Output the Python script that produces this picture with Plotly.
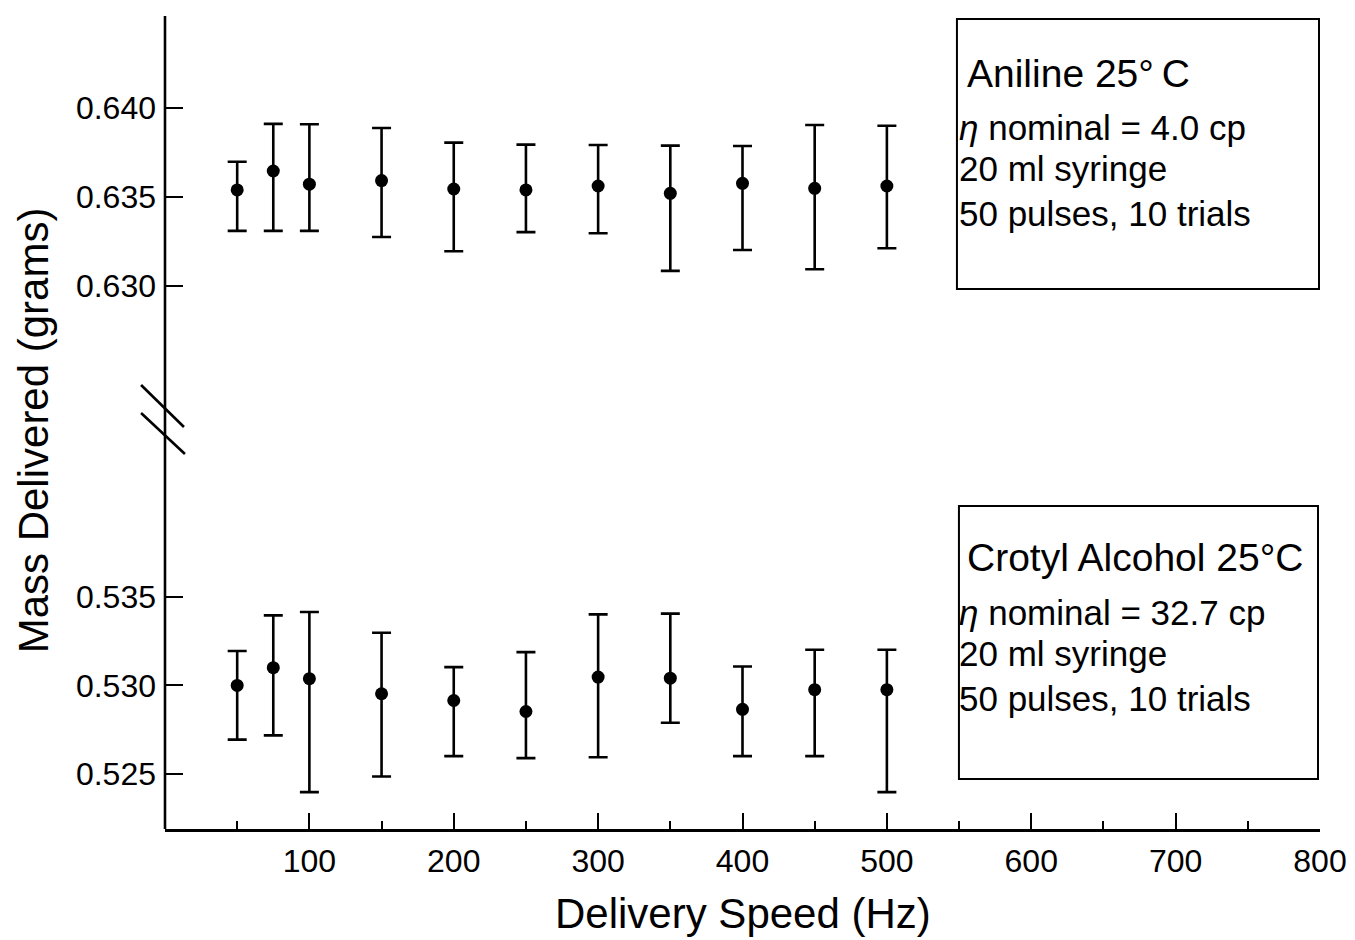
import plotly.graph_objects as go

# ---------------- data ----------------
speeds = [50, 75, 100, 150, 200, 250, 300, 350, 400, 450, 500]

aniline_mean = [0.63539, 0.63645, 0.63571, 0.63591, 0.63544, 0.63539, 0.63561, 0.63520, 0.63576, 0.63548, 0.63561]
aniline_high = [0.63697, 0.63909, 0.63907, 0.63886, 0.63804, 0.63793, 0.63791, 0.63787, 0.63785, 0.63903, 0.63899]
aniline_low = [0.63309, 0.63309, 0.63309, 0.63275, 0.63195, 0.63302, 0.63296, 0.63085, 0.63202, 0.63094, 0.63212]

crotyl_mean = [0.53000, 0.53100, 0.53038, 0.52953, 0.52915, 0.52853, 0.53047, 0.53041, 0.52865, 0.52976, 0.52976]
crotyl_high = [0.53194, 0.53395, 0.53414, 0.53297, 0.53103, 0.53188, 0.53401, 0.53405, 0.53107, 0.53201, 0.53201]
crotyl_low = [0.52694, 0.52718, 0.52398, 0.52486, 0.52601, 0.52590, 0.52595, 0.52789, 0.52601, 0.52601, 0.52398]

x_major_ticks = [100, 200, 300, 400, 500, 600, 700, 800]
x_minor_ticks = [50, 150, 250, 350, 450, 550, 650, 750]
upper_ticks = [0.630, 0.635, 0.640]
lower_ticks = [0.525, 0.530, 0.535]

aniline_lines = ["Aniline 25°\u2009C", "<i>η</i> nominal = 4.0 cp", "20 ml syringe", "50 pulses, 10 trials"]
crotyl_lines = ["Crotyl Alcohol 25°C", "<i>η</i> nominal = 32.7 cp", "20 ml syringe", "50 pulses, 10 trials"]

# ---------------- layout geometry ----------------
# the page body adds an 8px margin, so the figure starts at screen (8, 8)
OFF = 8
SW, SH = 1355, 940
W, H = SW - OFF, SH - OFF
# plot area in screen pixels
PL, PR, PT, PB = 165, 1323, 16, 829
ML, MR, MT, MB = PL - OFF, W - (PR - OFF), PT - OFF, H - (PB - OFF)
PW, PH = PR - PL, PB - PT
FONT = "Liberation Sans, Arial, Helvetica, sans-serif"
BLACK = "#000000"


def px(xs):
    return (xs - PL) / PW


def py(ys):
    return (PB - ys) / PH


upper_dom = [py(405), 1.0]
lower_dom = [0.0, py(433)]

fig = go.Figure()


def add_series(xs, mean, high, low, yaxis):
    fig.add_trace(go.Scatter(
        x=xs, y=mean, mode="markers", yaxis=yaxis, showlegend=False,
        marker=dict(size=13, color=BLACK),
        error_y=dict(type="data", symmetric=False,
                     array=[h - m for h, m in zip(high, mean)],
                     arrayminus=[m - l for m, l in zip(mean, low)],
                     color=BLACK, thickness=2.6, width=9.5),
    ))


add_series(speeds, aniline_mean, aniline_high, aniline_low, "y2")
add_series(speeds, crotyl_mean, crotyl_high, crotyl_low, "y")

tickfont = dict(family=FONT, size=32, color=BLACK)

fig.update_layout(
    width=W, height=H,
    margin=dict(l=ML, r=MR, t=MT, b=MB, pad=0),
    paper_bgcolor="white", plot_bgcolor="white",
    font=dict(family=FONT, color=BLACK),
    xaxis=dict(
        range=[0, 800], anchor="y", showgrid=False, zeroline=False,
        showline=True, linecolor=BLACK, linewidth=2.6,
        tickmode="array", tickvals=x_major_ticks, ticktext=[str(v) for v in x_major_ticks],
        ticks="inside", ticklen=16, tickwidth=2, tickcolor=BLACK,
        tickfont=tickfont, ticklabelstandoff=2,
        minor=dict(tickmode="array", tickvals=x_minor_ticks, ticks="inside",
                   ticklen=8, tickwidth=2, tickcolor=BLACK, showgrid=False),
    ),
    yaxis=dict(
        domain=lower_dom, range=[0.52190, 0.54424], anchor="x",
        showgrid=False, zeroline=False, showline=False,
        tickmode="array", tickvals=lower_ticks, ticktext=["%.3f" % v for v in lower_ticks],
        ticks="inside", ticklen=18, tickwidth=2, tickcolor=BLACK,
        tickfont=tickfont, ticklabelstandoff=8,
    ),
    yaxis2=dict(
        domain=upper_dom, range=[0.62333, 0.64514], anchor="x",
        showgrid=False, zeroline=False, showline=False,
        tickmode="array", tickvals=upper_ticks, ticktext=["%.3f" % v for v in upper_ticks],
        ticks="inside", ticklen=18, tickwidth=2, tickcolor=BLACK,
        tickfont=tickfont, ticklabelstandoff=8,
    ),
)

shapes = []
# continuous left axis line
shapes.append(dict(type="line", xref="paper", yref="paper", x0=0, x1=0, y0=0, y1=1,
                   line=dict(color=BLACK, width=2.6)))
# axis break marks
for (x0, y0, x1, y1) in [(141, 385, 184, 427), (141, 413, 185, 454)]:
    shapes.append(dict(type="line", xref="paper", yref="paper",
                       x0=px(x0), y0=py(y0), x1=px(x1), y1=py(y1),
                       line=dict(color=BLACK, width=2.6)))
# legend boxes
for (x0, y0, x1, y1) in [(959, 19, 1322, 289), (961, 506, 1321, 779)]:
    shapes.append(dict(type="rect", xref="paper", yref="paper",
                       x0=px(x0), y0=py(y0), x1=px(x1), y1=py(y1),
                       line=dict(color=BLACK, width=2), fillcolor="rgba(0,0,0,0)"))
fig.update_layout(shapes=shapes)

annotations = []


def box_text(lines, title_y, body_ys):
    annotations.append(dict(xref="paper", yref="paper", x=px(967), y=py(title_y),
                            xanchor="left", yanchor="middle", showarrow=False,
                            text=lines[0], font=dict(family=FONT, size=39, color=BLACK)))
    for t, yy in zip(lines[1:], body_ys):
        annotations.append(dict(xref="paper", yref="paper", x=px(959), y=py(yy),
                                xanchor="left", yanchor="middle", showarrow=False,
                                text=t, font=dict(family=FONT, size=35, color=BLACK)))


box_text(aniline_lines, 73, [127, 168, 213])
box_text(crotyl_lines, 557, [612, 653, 698])

# axis titles
annotations.append(dict(xref="paper", yref="paper", x=0.5, y=py(914),
                        xanchor="center", yanchor="middle", showarrow=False,
                        text="Delivery Speed (Hz)", font=dict(family=FONT, size=42, color=BLACK)))
annotations.append(dict(xref="paper", yref="paper", x=px(33), y=py(430),
                        xanchor="center", yanchor="middle", showarrow=False, textangle=-90,
                        text="Mass Delivered (grams)", font=dict(family=FONT, size=42, color=BLACK)))
fig.update_layout(annotations=annotations)

fig.write_html("out.html")
